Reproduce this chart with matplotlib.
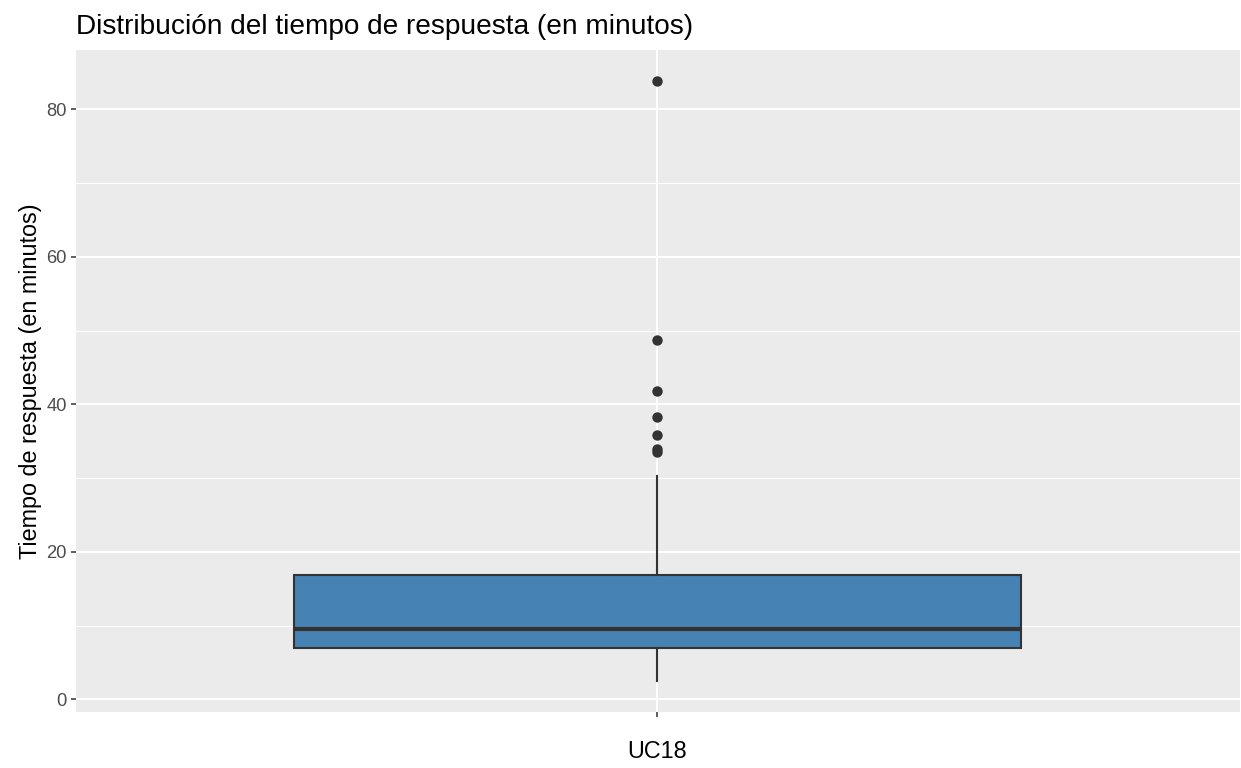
import matplotlib
matplotlib.use("Agg")
import matplotlib.pyplot as plt
from matplotlib.ticker import FixedLocator

# Data
category = ["UC18"]
q1 = [6.95]
median = [9.5]
q3 = [16.9]
whisker_low = [2.45]
whisker_high = [30.3]
outliers = [[83.8, 48.7, 41.8, 38.3, 35.8, 34.0, 33.6]]
y_ticks = [0, 20, 40, 60, 80]
y_minor = [10, 30, 50, 70]

plt.rcParams['font.family'] = ['Liberation Sans', 'DejaVu Sans']

fig = plt.figure(figsize=(12.41, 7.68), dpi=100)
ax = fig.add_axes([75.5/1241, (768-711.7)/768, (1239.5-75.5)/1241, (711.7-49.7)/768])
ax.set_facecolor('#EBEBEB')

stats = []
for i in range(len(category)):
    stats.append(dict(med=median[i], q1=q1[i], q3=q3[i], whislo=whisker_low[i],
                      whishi=whisker_high[i], fliers=outliers[i], label=""))

ax.bxp(stats, positions=[1], widths=0.75, patch_artist=True, showcaps=False,
       boxprops=dict(facecolor='#4682B4', edgecolor='#333333', linewidth=1.5),
       medianprops=dict(color='#333333', linewidth=3.0, solid_capstyle='butt'),
       whiskerprops=dict(color='#333333', linewidth=1.5),
       flierprops=dict(marker='o', markersize=7.5, markerfacecolor='#333333',
                       markeredgecolor='#333333', markeredgewidth=0, linestyle='none'),
       zorder=3)

ax.set_xlim(0.4, 1.6)
ax.set_ylim(-1.68, 88.08)
ax.yaxis.set_major_locator(FixedLocator(y_ticks))
ax.yaxis.set_minor_locator(FixedLocator(y_minor))
ax.set_xticks([1])
ax.set_xticklabels([""])

ax.grid(which='major', color='white', linewidth=1.5, zorder=0)
ax.grid(which='minor', axis='y', color='white', linewidth=0.75, zorder=0)
ax.set_axisbelow(True)
for s in ax.spines.values():
    s.set_visible(False)

ax.tick_params(axis='both', which='major', length=3.8, width=1.1, color='#333333',
               labelcolor='#4D4D4D', labelsize=13.2, pad=2.5)
ax.tick_params(axis='y', which='minor', length=0)

ax.set_xlabel("UC18", fontsize=16.8, color='black', labelpad=14)
ax.set_ylabel("Tiempo de respuesta (en minutos)", fontsize=16.8, color='black', labelpad=3)
ax.set_title("Distribución del tiempo de respuesta (en minutos)", fontsize=20.2,
             loc='left', color='black', pad=11.5)

fig.savefig("out.png", dpi=100)
